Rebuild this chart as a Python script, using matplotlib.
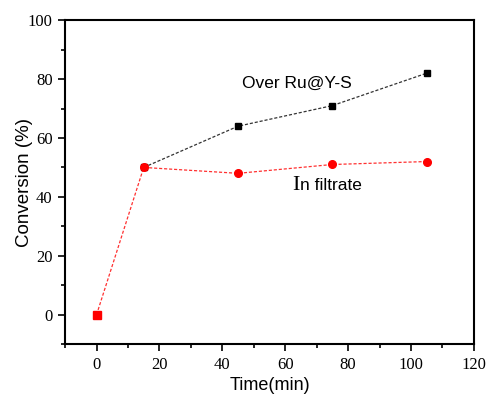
import matplotlib
matplotlib.use('Agg')
import matplotlib.pyplot as plt
from matplotlib.ticker import MultipleLocator

# data
time_ru = [15, 45, 75, 105]
conv_ru = [50, 64, 71, 82]
time_filt = [0, 15, 45, 75, 105]
conv_filt = [0, 50, 48, 51, 52]

fig = plt.figure(figsize=(4.86, 3.96), dpi=100)
ax = fig.add_axes([0.134, 0.131, 0.841, 0.818])

ax.plot(time_ru, conv_ru, linestyle=(0, (2.5, 1.5)), color='#333333', linewidth=0.9,
        marker='s', markersize=5, markerfacecolor='black', markeredgecolor='black')
ax.plot(time_filt, conv_filt, linestyle=(0, (2.5, 1.5)), color='#ff3030', linewidth=0.9,
        marker='o', markersize=5.5, markerfacecolor='red', markeredgecolor='red', zorder=3)
# first point drawn as a square in the original
ax.plot(time_filt[:1], conv_filt[:1], linestyle='none', marker='s', markersize=6,
        color='red', zorder=4)

ax.set_xlim(-10, 120)
ax.set_ylim(-10, 100)
ax.xaxis.set_major_locator(MultipleLocator(20))
ax.xaxis.set_minor_locator(MultipleLocator(10))
ax.yaxis.set_major_locator(MultipleLocator(20))
ax.yaxis.set_minor_locator(MultipleLocator(10))
ax.tick_params(which='both', direction='out', top=False, right=False, width=1.2)
ax.tick_params(which='major', length=5, pad=4)
ax.tick_params(which='minor', length=3)
for lab in ax.get_xticklabels() + ax.get_yticklabels():
    lab.set_fontfamily('Liberation Serif')
    lab.set_fontsize(12)
for sp in ax.spines.values():
    sp.set_linewidth(1.5)

ax.set_xlabel('Time(min)', fontfamily='Liberation Sans', fontsize=13, labelpad=3)
ax.set_ylabel('Conversion (%)', fontfamily='Liberation Sans', fontsize=13.5, labelpad=-4)

ax.text(46.3, 78.5, 'Over Ru@Y-S', fontfamily='Liberation Sans', fontsize=12.5, va='center')
ax.text(62.2, 44, 'I', fontfamily='Liberation Serif', fontsize=16, va='center')
ax.annotate('n filtrate', xy=(62.2, 44), xytext=(6, 0), textcoords='offset points',
            fontfamily='Liberation Sans', fontsize=12.5, va='center')

fig.savefig('out.png', dpi=100)
